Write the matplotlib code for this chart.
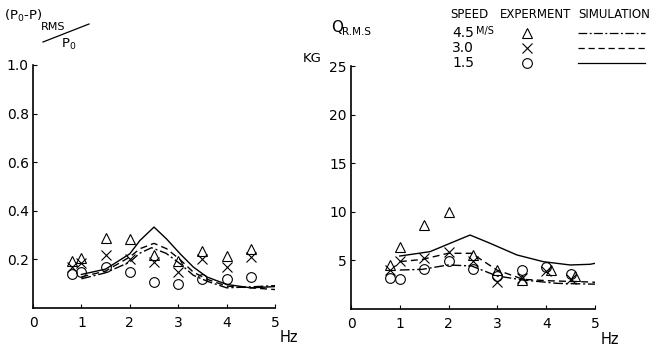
import matplotlib
matplotlib.use("Agg")
import matplotlib.pyplot as plt
from matplotlib.lines import Line2D

# frequency of the experiment points (Hz)
freq_exp = [0.8, 1.0, 1.5, 2.0, 2.5, 3.0, 3.5, 4.0, 4.5]

# left panel: (P0-P)RMS / P0, experiment
p_exp_45 = [0.193, 0.204, 0.288, 0.283, 0.220, 0.193, 0.234, 0.214, 0.241]
p_exp_30 = [0.170, 0.186, 0.219, 0.200, 0.189, 0.148, 0.203, 0.170, 0.210]
p_exp_15 = [0.138, 0.149, 0.170, 0.149, 0.109, 0.099, 0.119, 0.119, 0.128]

# left panel: simulation curves
p_sim_15_x = [1.0, 1.5, 2.0, 2.21, 2.5, 2.76, 3.04, 3.31, 3.59, 4.0, 4.5, 5.0]
p_sim_15 = [0.138, 0.160, 0.223, 0.278, 0.333, 0.284, 0.223, 0.169, 0.128, 0.097, 0.083, 0.088]
p_sim_30_x = [1.0, 1.5, 2.0, 2.21, 2.5, 2.76, 3.04, 3.31, 3.6, 4.0, 4.5, 5.0]
p_sim_30 = [0.128, 0.152, 0.210, 0.244, 0.266, 0.244, 0.199, 0.148, 0.118, 0.090, 0.083, 0.076]
p_sim_45_x = [1.0, 1.5, 2.0, 2.2, 2.45, 2.75, 3.04, 3.31, 3.6, 4.0, 4.5, 5.0]
p_sim_45 = [0.120, 0.145, 0.189, 0.225, 0.248, 0.225, 0.182, 0.135, 0.110, 0.083, 0.087, 0.092]

# right panel: Q RMS (KG), experiment
q_freq_45 = [0.8, 1.0, 1.5, 2.0, 2.5, 3.0, 3.5, 4.1, 4.6]
q_exp_45 = [4.57, 6.36, 8.6, 10.0, 5.6, 4.0, 3.0, 4.0, 3.37]
q_exp_30 = [4.05, 4.98, 5.2, 5.84, 4.98, 2.78, 3.2, 3.9, 3.1]
q_exp_15 = [3.2, 3.13, 4.12, 4.98, 4.12, 3.37, 3.99, 4.33, 3.64]

# right panel: simulation curves
q_sim_15_x = [1.0, 1.62, 2.03, 2.44, 2.85, 3.4, 3.94, 4.49, 4.9, 5.0]
q_sim_15 = [5.45, 5.9, 6.76, 7.61, 6.76, 5.56, 4.87, 4.53, 4.6, 4.7]
q_sim_30_x = [1.0, 1.46, 1.99, 2.47, 2.99, 3.53, 4.08, 4.76, 5.0]
q_sim_30 = [4.87, 5.1, 5.73, 5.73, 4.01, 3.05, 2.9, 2.8, 2.75]
q_sim_45_x = [1.0, 1.46, 1.99, 2.47, 2.99, 3.53, 4.22, 4.84, 5.0]
q_sim_45 = [4.01, 4.08, 4.53, 4.43, 3.4, 2.98, 2.64, 2.57, 2.56]

fig = plt.figure(figsize=(6.59, 3.49), dpi=100)
W, H = 659.0, 349.0

DASH = (0, (5, 3))
DASHDOT = (0, (7, 2, 1.5, 2))


def make_axes(x0, x1, y0, y1):
    ax = fig.add_axes([x0 / W, 1 - y1 / H, (x1 - x0) / W, (y1 - y0) / H])
    for s in ['top', 'right']:
        ax.spines[s].set_visible(False)
    for s in ['left', 'bottom']:
        ax.spines[s].set_linewidth(1.2)
    ax.tick_params(direction='in', length=3, width=0.8, labelsize=10)
    ax.tick_params(axis='x', pad=6)
    ax.tick_params(axis='y', pad=3)
    ax.set_xlim(0, 5)
    ax.set_xticks([0, 1, 2, 3, 4, 5])
    return ax


mk = dict(fillstyle='none', color='black', linestyle='none', markersize=7, markeredgewidth=0.8)

# left panel
ax1 = make_axes(33, 275, 65, 308)
ax1.set_ylim(0, 1.0)
ax1.set_yticks([0.2, 0.4, 0.6, 0.8, 1.0])
ax1.set_yticklabels(['0.2', '0.4', '0.6', '0.8', '1.0'])
ax1.plot(freq_exp, p_exp_45, marker='^', **mk)
ax1.plot(freq_exp, p_exp_30, marker='x', **mk)
ax1.plot(freq_exp, p_exp_15, marker='o', **mk)
ax1.plot(p_sim_15_x, p_sim_15, color='black', lw=1.0, ls='-')
ax1.plot(p_sim_30_x, p_sim_30, color='black', lw=1.0, ls=DASH)
ax1.plot(p_sim_45_x, p_sim_45, color='black', lw=1.0, ls=DASHDOT)

# right panel
ax2 = make_axes(351, 595, 66, 309)
ax2.set_ylim(0, 25)
ax2.set_yticks([5, 10, 15, 20, 25])
ax2.plot(q_freq_45, q_exp_45, marker='^', **mk)
ax2.plot(freq_exp, q_exp_30, marker='x', **mk)
ax2.plot(freq_exp, q_exp_15, marker='o', **mk)
ax2.plot(q_sim_15_x, q_sim_15, color='black', lw=1.0, ls='-')
ax2.plot(q_sim_30_x, q_sim_30, color='black', lw=1.0, ls=DASH)
ax2.plot(q_sim_45_x, q_sim_45, color='black', lw=1.0, ls=DASHDOT)


# axis labels and titles (figure pixel coords)
def ftext(x, y, s, **kw):
    fig.text(x / W, 1 - y / H, s, **kw)


ftext(280, 338, 'Hz', fontsize=10.5, va='center')
ftext(601, 340, 'Hz', fontsize=10.5, va='center')
ftext(4, 16, '(P$_0$-P)', fontsize=9.5, va='center')
ftext(41, 27, 'RMS', fontsize=8, va='center')
ftext(61, 44, 'P$_0$', fontsize=9.5, va='center')
fig.add_artist(Line2D([43 / W, 89 / W], [1 - 42 / H, 1 - 24 / H], color='black', lw=0.9))
ftext(331, 27, 'Q', fontsize=11, va='center')
ftext(342, 32, 'R.M.S', fontsize=7.5, va='center')
ftext(303, 59, 'KG', fontsize=9.5, va='center')

# legend block
ftext(450, 14, 'SPEED', fontsize=8.5, va='center')
ftext(500, 14, 'EXPERMENT', fontsize=8.5, va='center')
ftext(578, 14, 'SIMULATION', fontsize=8.5, va='center')
speeds = ['4.5', '3.0', '1.5']
markers = ['^', 'x', 'o']
styles = [DASHDOT, DASH, '-']
rows_y = [33, 48, 63]
for lab, m, ls, yy in zip(speeds, markers, styles, rows_y):
    ftext(452, yy, lab, fontsize=10, va='center')
    fig.add_artist(Line2D([527 / W], [1 - yy / H], marker=m, **mk))
    fig.add_artist(Line2D([578 / W, 645 / W], [1 - yy / H, 1 - yy / H], color='black', lw=0.9, ls=ls))
ftext(476, 31, 'M/S', fontsize=7, va='center')

fig.savefig('out.png', dpi=100)
